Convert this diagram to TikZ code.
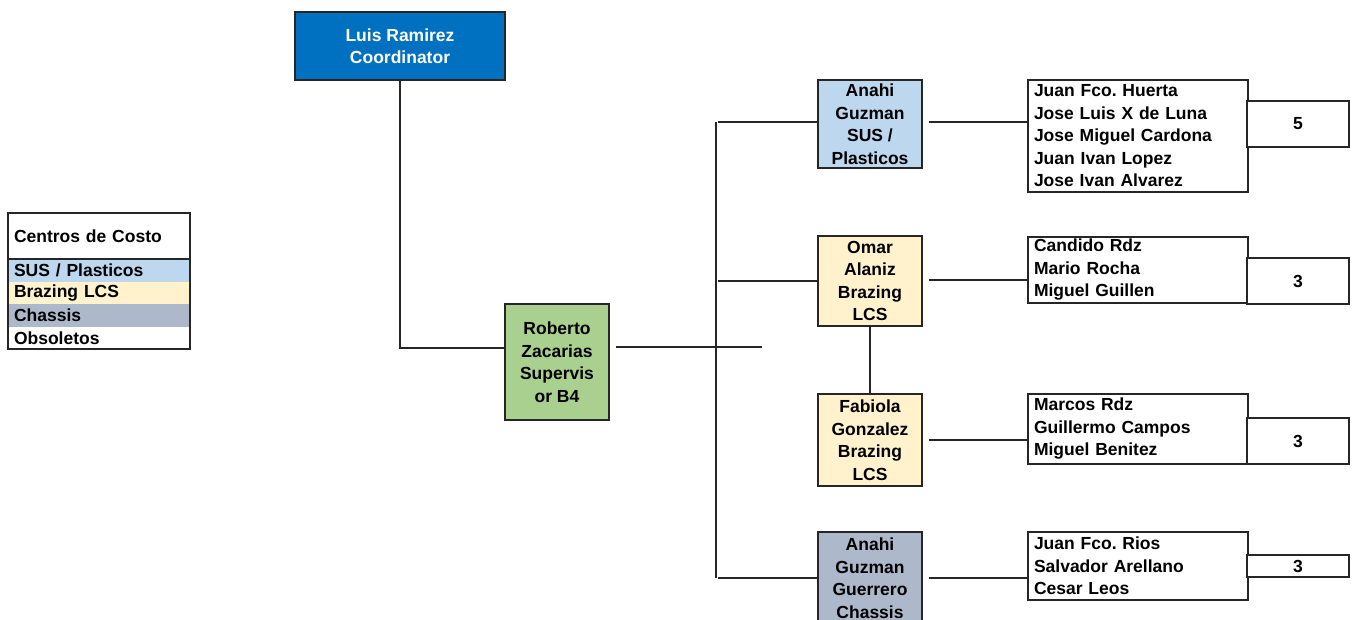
\documentclass[tikz,border=0pt]{standalone}
\usepackage{fontspec}
\setmainfont{Liberation Sans}
\frenchspacing
\definecolor{coordblue}{RGB}{0,112,192}
\definecolor{supgreen}{RGB}{169,208,142}
\definecolor{susblue}{RGB}{189,215,238}
\definecolor{brazcream}{RGB}{255,242,204}
\definecolor{chasgrey}{RGB}{173,185,202}
\tikzset{
  box/.style={draw=black!85, line width=2pt, inner sep=0pt, align=center,
    font=\bfseries\fontsize{17.5}{22.5}\selectfont},
  role/.style={box, minimum width=104pt},
  names/.style={box, fill=white, align=left, text width=208pt, inner xsep=6pt},
  countbox/.style={box, fill=white, minimum width=102pt},
  legrow/.style={inner sep=0pt, text width=170pt, inner xsep=6pt, align=left,
    minimum height=22.5pt, font=\bfseries\fontsize{17.5}{22.5}\selectfont},
  conn/.style={draw=black!85, line width=2pt}
}
\begin{document}
\begin{tikzpicture}[x=1pt,y=-1pt]
  \useasboundingbox (0,0) rectangle (1356,620);
  \clip (0,0) rectangle (1356,620);

  % legend
  \node[legrow, minimum height=46pt] (leghead) at (99,236) {Centros de Costo};
  \node[legrow, fill=susblue] (legsus) at (99,270.5) {SUS / Plasticos};
  \node[legrow, fill=brazcream] (legbraz) at (99,293) {Brazing LCS};
  \node[legrow, fill=chasgrey] (legchas) at (99,315.5) {Chassis};
  \node[legrow] (legobs) at (99,338) {Obsoletos};
  \draw[conn] (leghead.north west) rectangle (legobs.south east);
  \draw[conn] (leghead.south west) -- (leghead.south east);

  % coordinator and supervisor
  \node[box, fill=coordblue, text=white, minimum width=210pt, minimum height=68pt] (luis) at (400,46) {Luis Ramirez\\Coordinator};
  \node[role, fill=supgreen, minimum height=116pt] (roberto) at (557,362) {Roberto\\Zacarias\\Supervis\\or B4};
  \draw[conn] (luis.south) |- ([yshift=14pt]roberto.west);

  % trunk
  \coordinate (trunktop) at (716,122);
  \coordinate (trunkbot) at (716,578);
  \coordinate (stub) at (762,347);
  \draw[conn] (trunktop) -- (trunkbot);
  \draw[conn, shorten <=6pt] ([yshift=15pt]roberto.east) -- (stub);

  % cost centre leads
  \node[role, fill=susblue, minimum height=88pt] (sus) at (870,124) {Anahi\\Guzman\\SUS /\\Plasticos};
  \node[role, fill=brazcream, minimum height=90pt] (omar) at (870,281) {Omar\\Alaniz\\Brazing\\LCS};
  \node[role, fill=brazcream, minimum height=92pt] (fabiola) at (870,440) {Fabiola\\Gonzalez\\Brazing\\LCS};
  \node[role, fill=chasgrey, minimum height=92pt] (chassis) at (870,578) {Anahi\\Guzman\\Guerrero\\Chassis};

  \draw[conn, shorten <=2pt] (trunktop) -- (trunktop -| sus.west);
  \draw[conn, shorten <=2pt] (trunktop |- omar.west) -- (omar.west);
  \draw[conn, shorten <=2pt] (trunkbot) -- (trunkbot -| chassis.west);
  \draw[conn] (omar.south) -- (fabiola.north);

  % crews
  \node[names, minimum height=112pt] (crew1) at (1138,136) {Juan Fco. Huerta\\Jose Luis X de Luna\\Jose Miguel Cardona\\Juan Ivan Lopez\\Jose Ivan Alvarez};
  \node[names, minimum height=66pt] (crew2) at (1138,270) {Candido Rdz\\Mario Rocha\\Miguel Guillen};
  \node[names, minimum height=70pt] (crew3) at (1138,429) {Marcos Rdz\\Guillermo Campos\\Miguel Benitez};
  \node[names, minimum height=68pt] (crew4) at (1138,566) {Juan Fco. Rios\\Salvador Arellano\\Cesar Leos};

  \draw[conn, shorten <=6pt] ([yshift=2pt]sus.east) -- ([yshift=2pt]sus.east -| crew1.west);
  \draw[conn, shorten <=6pt] ([yshift=1pt]omar.east) -- ([yshift=1pt]omar.east -| crew2.west);
  \draw[conn, shorten <=6pt] (fabiola.east) -- (fabiola.east -| crew3.west);
  \draw[conn, shorten <=6pt] (chassis.east) -- (chassis.east -| crew4.west);

  % head counts
  \node[countbox, minimum height=46pt] (count1) at (1298,124) {5};
  \node[countbox, minimum height=46pt] (count2) at (1298,281) {3};
  \node[countbox, minimum height=46pt] (count3) at (1298,441) {3};
  \node[countbox, minimum height=22pt] (count4) at (1298,566) {3};
\end{tikzpicture}
\end{document}
